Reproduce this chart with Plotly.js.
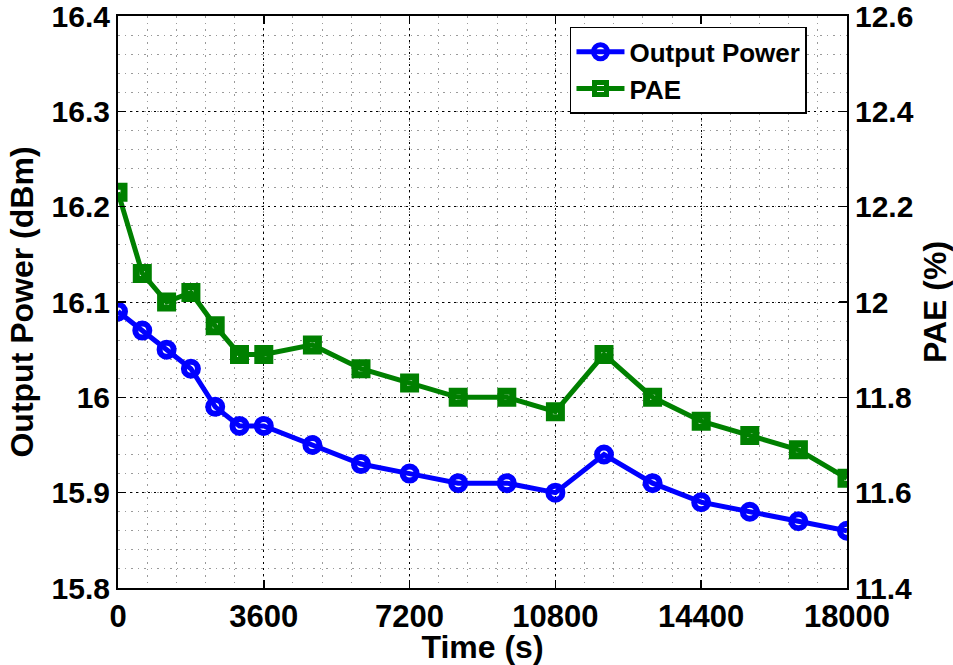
<!DOCTYPE html>
<html>
<head>
<meta charset="utf-8">
<script src="https://cdn.plot.ly/plotly-3.0.1.min.js"></script>
<style>
  html, body { margin: 0; padding: 0; background: #fff; }
  #chart { width: 953px; height: 665px; }
</style>
</head>
<body>
<div id="chart"></div>
<script>
// Measurement times (s)
const timeSec = [0, 600, 1200, 1800, 2400, 3000, 3600, 4800, 6000, 7200, 8400,
                 9600, 10800, 12000, 13200, 14400, 15600, 16800, 18000];
// Output power (dBm)
const outputPower = [16.09, 16.07, 16.05, 16.03, 15.99, 15.97, 15.97, 15.95, 15.93, 15.92, 15.91,
                     15.91, 15.90, 15.94, 15.91, 15.89, 15.88, 15.87, 15.86];
// Power-added efficiency (%)
const pae = [12.23, 12.06, 12.00, 12.02, 11.95, 11.89, 11.89, 11.91, 11.86, 11.83, 11.80,
             11.80, 11.77, 11.89, 11.80, 11.75, 11.72, 11.69, 11.63];

// Tick positions and labels
const xTicks = [0, 3600, 7200, 10800, 14400, 18000];
const powerTicks = [15.8, 15.9, 16.0, 16.1, 16.2, 16.3, 16.4];
const powerTickText = ['15.8', '15.9', '16', '16.1', '16.2', '16.3', '16.4'];
const paeTicks = [11.4, 11.6, 11.8, 12.0, 12.2, 12.4, 12.6];
const paeTickText = ['11.4', '11.6', '11.8', '12', '12.2', '12.4', '12.6'];

const FAMILY = 'Liberation Sans, Arial, sans-serif';
const tickFont = {family: FAMILY, size: 30, color: '#000', weight: 'bold'};
const xTickFont = {family: FAMILY, size: 31, color: '#000', weight: 'bold'};
const titleFont = {family: FAMILY, size: 32, color: '#000', weight: 'bold'};

const traces = [
  {
    x: timeSec, y: outputPower, name: 'Output Power', yaxis: 'y',
    mode: 'lines+markers',
    line: {color: '#0000ff', width: 5},
    marker: {symbol: 'circle-open', size: 14, color: '#0000ff', line: {width: 6, color: '#0000ff'}}
  },
  {
    x: timeSec, y: pae, name: 'PAE', yaxis: 'y2',
    mode: 'lines+markers',
    line: {color: '#008000', width: 5},
    marker: {symbol: 'square-open', size: 12, color: '#008000', line: {width: 7, color: '#008000'}}
  }
];

const gridDash = '2px,4px';
const minorDash = '1.5px,5px';

const layout = {
  width: 953, height: 665,
  margin: {l: 118, r: 106, t: 16, b: 77},
  paper_bgcolor: '#fff', plot_bgcolor: '#fff',
  showlegend: true,
  legend: {
    x: 0.62, y: 0.981, xanchor: 'left', yanchor: 'top',
    bgcolor: '#fff', bordercolor: '#000', borderwidth: 1.5,
    font: {family: FAMILY, size: 26, color: '#000', weight: 'bold'},
    itemwidth: 48, tracegroupgap: 0
  },
  xaxis: {
    range: [0, 18000], tickvals: xTicks, ticktext: xTicks.map(String),
    showline: true, linecolor: '#000', linewidth: 2, mirror: 'ticks',
    ticks: 'inside', ticklen: 8, tickwidth: 1.5, tickcolor: '#000',
    showgrid: true, gridcolor: '#000', gridwidth: 1, griddash: gridDash,
    minor: {dtick: 720, tick0: 0, showgrid: true, gridcolor: '#9a9a9a', gridwidth: 1, griddash: minorDash, ticks: ''},
    zeroline: false, ticklabeloverflow: 'allow',
    tickfont: xTickFont,
    title: {text: 'Time (s)', font: titleFont, standoff: 0}
  },
  yaxis: {
    range: [15.8, 16.4], tickvals: powerTicks, ticktext: powerTickText,
    showline: true, linecolor: '#000', linewidth: 2, mirror: 'ticks',
    ticks: 'inside', ticklen: 8, tickwidth: 1.5, tickcolor: '#000',
    showgrid: true, gridcolor: '#000', gridwidth: 1, griddash: gridDash,
    minor: {dtick: 0.02, tick0: 15.8, showgrid: true, gridcolor: '#9a9a9a', gridwidth: 1, griddash: minorDash, ticks: ''},
    zeroline: false, ticklabeloverflow: 'allow',
    tickfont: tickFont,
    title: {text: 'Output Power (dBm)', font: titleFont, standoff: 8}
  },
  yaxis2: {
    overlaying: 'y', side: 'right',
    range: [11.4, 12.6], tickvals: paeTicks, ticktext: paeTickText,
    showline: true, linecolor: '#000', linewidth: 2,
    ticks: 'inside', ticklen: 8, tickwidth: 1.5, tickcolor: '#000',
    showgrid: false, zeroline: false, ticklabeloverflow: 'allow',
    tickfont: tickFont,
    title: {text: 'PAE (%)', font: titleFont, standoff: 14}
  }
};

Plotly.newPlot('chart', traces, layout, {displayModeBar: false, staticPlot: true});
</script>
</body>
</html>
